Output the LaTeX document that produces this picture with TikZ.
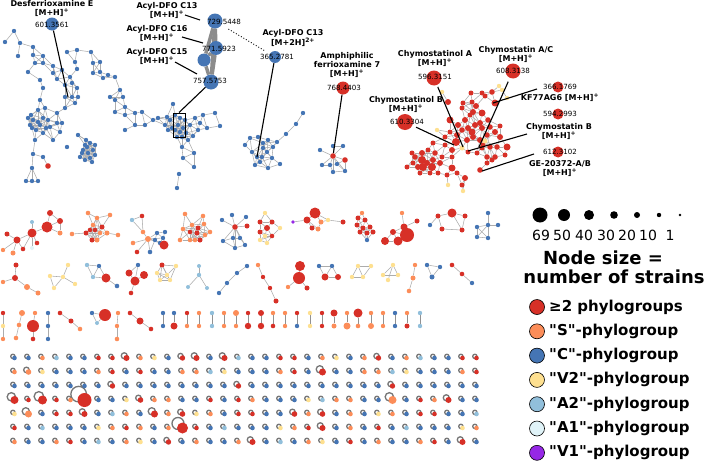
\documentclass[tikz,border=0pt]{standalone}
\usepackage{fontspec}
\setmainfont{DejaVu Sans}[Ligatures=TeXOff]
\pgfdeclarelayer{bg}
\pgfsetlayers{bg,main}
\definecolor{cR}{RGB}{215,48,39}
\definecolor{cO}{RGB}{252,141,89}
\definecolor{cB}{RGB}{69,117,180}
\definecolor{cY}{RGB}{254,224,144}
\definecolor{cL}{RGB}{145,191,219}
\definecolor{cW}{RGB}{224,243,248}
\definecolor{cP}{RGB}{150,40,230}
\definecolor{edgec}{RGB}{172,172,172}
\definecolor{loopc}{RGB}{118,118,118}
\definecolor{thickc}{RGB}{140,140,140}
\tikzset{
  nd/.style={circle,inner sep=0pt,draw=none},
  ed/.style={draw=edgec,line width=0.55pt},
  edd/.style={draw=loopc!80,line width=1pt},
  lp/.style={draw=loopc,line width=1.3pt},
  ptr/.style={draw=black,line width=1.1pt},
  lab/.style={font=\fontsize{8}{9}\selectfont\bfseries,align=center,inner sep=0pt},
  num/.style={font=\fontsize{7.1}{8}\selectfont,inner sep=0pt},
  lgt/.style={font=\fontsize{15}{16}\selectfont\bfseries,anchor=west,inner sep=0pt},
  szt/.style={font=\fontsize{14}{15}\selectfont,inner sep=0pt},
  big/.style={font=\fontsize{18}{19}\selectfont\bfseries,inner sep=0pt}
}
\newcommand\mknodes[2]{%
  \foreach[count=\i] \nx/\ny/\nr/\nc in #2{%
    \node[nd,fill=\nc,minimum size={2*\nr}] (#1-\i) at (\nx,\ny) {};}}
\newcommand\mkedges[2]{%
  \foreach \ea/\eb in {#2}{\draw[ed] (#1-\ea) -- (#1-\eb);}}
\newcommand\mkauto[3]{%
  \foreach[count=\i] \xa/\ya/\ra/\ca in #3{%
    \foreach[count=\j] \xb/\yb/\rb/\cb in #3{%
      \ifnum\j>\i
        \pgfmathtruncatemacro\ok{(((\xa-\xb)/10)*((\xa-\xb)/10)+((\ya-\yb)/10)*((\ya-\yb)/10))<((#2/10)*(#2/10))}%
        \ifnum\ok=1 \draw[ed] (#1-\i) -- (#1-\j);\fi
      \fi}}}
\newcommand\getgr{%
  \pgfmathsetmacro\gx{13+14*\gi+1.5}%
  \pgfmathsetmacro\gy{357+14*\gj+1}%
  \ifcsname gspr\gi-\gj\endcsname
    \edef\gr{\csname gspr\gi-\gj\endcsname}\edef\gc{\csname gspc\gi-\gj\endcsname}%
  \else
    \pgfmathtruncatemacro\gk{mod(\gi*7+\gj*11+\gi*\gj*3,13)}%
    \edef\gr{2.3}%
    \edef\gc{\ifcase\gk cB\or cO\or cB\or cR\or cB\or cY\or cO\or cB\or cL\or cB\or cR\or cO\or cB\fi}%
  \fi}
\foreach \gi/\gj/\sr/\sc in {8/0/3/cR, 12/0/2.7/cR, 13/0/3/cR, 15/0/3/cR, 26/0/2.7/cR, 1/1/2.8/cO, 22/1/3.5/cR, 7/2/2.7/cR, 16/2/2.7/cR, 27/2/2.7/cR, 0/3/4/cR, 2/3/4.5/cR, 5/3/7/cR, 9/3/2.8/cR, 27/3/4/cO, 31/3/3/cR, 1/4/3.5/cO, 5/4/3/cR, 10/4/3.5/cR, 12/4/2.8/cR, 20/4/2.8/cR, 22/4/2.8/cR, 12/5/5.5/cR, 22/5/3/cR, 11/6/2.7/cR, 17/6/3/cR, 32/6/3/cR}{%
  \expandafter\xdef\csname gspr\gi-\gj\endcsname{\sr}%
  \expandafter\xdef\csname gspc\gi-\gj\endcsname{\sc}}

\def\Ltl{14/31/2.2/cB, 5/42/2.2/cB, 20/43/2.2/cB, 18/56/2.2/cB, 33/47/2.2/cB, 33/55/2.2/cB, 43/56/2.2/cB, 35/63/2.2/cB, 28/72/2.2/cB, 43/63/2.2/cB, 53/66/2.2/cB, 53/73/2.2/cB, 62/70/2.2/cB, 67/52/2.2/cB, 77/50/2.2/cB, 75/62/2.2/cB, 70/77/2.2/cB, 77/69/2.2/cB, 91/52/2.2/cB, 93/63/2.2/cB, 100/62/2.2/cB, 100/72/2.2/cB, 103/78/2.2/cB, 93/73/2.2/cB, 77/88/2.2/cB, 65/85/2.2/cB, 72/83/2.2/cB, 57/79/2.2/cB, 40/80/2.2/cB, 43/88/2.2/cB, 65/97/2.2/cB, 72/97/2.2/cB, 78/97/2.2/cB, 75/103/2.2/cB, 65/108/2.2/cB, 62/123/2.2/cB, 40/100/2.2/cB, 31/115/2.2/cB, 43/118/2.2/cB, 50/127/2.2/cB, 36/130/2.2/cB, 43/133/2.2/cB, 33/120/2.2/cB, 32/128/2.2/cB, 35/140/2.2/cB, 57/123/2.2/cB, 57/113/2.2/cB, 60/132/2.2/cB, 67/147/2.2/cB, 78/135/2.2/cB, 53/140/2.2/cB, 83/150/2.2/cB, 87/147/2.2/cB, 93/150/2.2/cB, 90/158/2.2/cB, 80/157/2.2/cB, 43/157/2.2/cB, 48/166/2.8/cR, 33/154/2.2/cB, 32/168/2.2/cB, 32/181/2.2/cB, 26/181/2.2/cB, 38/181/2.2/cB, 110/97/2.2/cB, 115/112/2.2/cB, 125/107/2.2/cB, 125/115/2.2/cB, 115/100/2.2/cB, 123/97/2.2/cB, 135/125/2.2/cB, 108/75/2.2/cB, 115/77/2.2/cB, 120/90/2.2/cB, 135/113/2.2/cB, 142/112/2.2/cB, 145/125/2.2/cB, 153/120/2.2/cB, 158/118/2.2/cB, 38/110/2.2/cB, 45/108/2.2/cB, 28/118/2.2/cB, 48/120/2.2/cB, 40/125/2.2/cB, 46/128/2.2/cB, 30/125/2.2/cB, 38/122/2.2/cB, 85/145/2.2/cB, 90/143/2.2/cB, 95/145/2.2/cB, 82/153/2.2/cB, 88/153/2.2/cB, 95/155/2.2/cB, 85/160/2.2/cB, 92/162/2.2/cB, 86/140/2.2/cB, 125/130/2.2/cB, 173/104/2.2/cB, 167/117/2.2/cB, 165/125/2.2/cB, 170/120/2.2/cB, 175/115/2.2/cB, 180/118/2.2/cB, 185/120/2.2/cB, 178/125/2.2/cB, 183/128/2.2/cB, 175/130/2.2/cB, 180/132/2.2/cB, 186/133/2.2/cB, 190/125/2.2/cB, 172/128/2.2/cB, 168/130/2.2/cB, 200/123/2.2/cB, 198/130/2.2/cB, 203/115/2.2/cB, 215/113/2.2/cB, 220/126/2.2/cB, 193/136/2.2/cB, 188/140/2.2/cB, 182/147/2.2/cB, 182/137/2.2/cB, 177/137/2.2/cB, 194/153/2.2/cB, 183/158/2.2/cB, 194/167/2.2/cB, 179/174/2.2/cB, 177/188/2.2/cB, 207/128/2.2/cB, 195/118/2.2/cB}
\def\Laa{250/138/2.2/cB, 258/137/2.2/cB, 268/140/2.2/cB, 273/147/2.2/cB, 267/152/2.2/cB, 257/157/2.2/cB, 252/152/2.2/cB, 262/157/2.2/cB, 260/162/2.2/cB, 272/158/2.2/cB, 280/164/2.2/cB, 268/168/2.2/cB, 255/165/2.2/cB, 263/148/2.2/cB, 263/143/2.2/cB, 277/142/2.2/cB, 286/134/2.2/cB, 296/124/2.2/cB, 303/113/2.2/cB, 245/145/2.2/cB}
\def\Lam{333/146/2.2/cB, 343/146/2.2/cB, 320/150/2.2/cB, 333/156/2.8/cR, 345/160/2.8/cR, 330/165/2.2/cB, 337/164/2.2/cB, 345/171/2.2/cB, 333/172/2.2/cB, 322/165/2.2/cB}
\def\Lch{492/92/2.8/cR, 499/86/2.2/cY, 485/96/2.5/cR, 472/102/2.5/cR, 463/103/2.5/cR, 495/103/3.5/cR, 462/108/2.5/cR, 473/112/3/cR, 450/120/3.5/cR, 465/120/3/cR, 470/115/2.5/cR, 482/113/3.5/cR, 480/123/3/cR, 475/125/3/cR, 468/128/3/cR, 482/128/3/cR, 488/120/2.8/cR, 490/127/2.8/cR, 462/130/2.8/cR, 457/135/3/cR, 450/132/2.5/cR, 445/137/2.5/cR, 456/142/4/cR, 467/140/3/cR, 473/137/3/cR, 480/140/3/cR, 487/135/2.8/cR, 495/132/3/cR, 500/137/3/cR, 507/147/3.5/cR, 497/147/2.8/cR, 490/147/2.8/cR, 482/148/2.5/cR, 477/153/2.5/cR, 468/152/2.5/cR, 462/148/2.5/cY, 487/157/2.8/cR, 495/157/2.8/cR, 487/163/2.5/cR, 480/170/2.8/cR, 492/160/2.5/cR, 483/145/2.5/cR, 437/130/2.2/cY, 433/143/2.5/cR, 445/145/2.5/cR, 452/150/3/cR, 452/157/2.5/cR, 435/153/2.8/cR, 428/150/2.5/cR, 422/153/3/cR, 415/157/2.8/cR, 422/160/4/cR, 427/163/3/cR, 433/160/3/cR, 423/167/4/cR, 432/167/4/cR, 413/163/2.5/cR, 407/167/2.5/cR, 412/153/2.5/cR, 438/173/2.5/cR, 452/168/3.5/cR, 447/175/2.5/cR, 457/173/2.5/cR, 465/178/3/cR, 462/185/2.5/cR, 448/185/2.2/cY, 463/191/2.2/cY, 442/157/2.5/cR, 430/173/2.5/cR, 420/173/2.5/cR, 442/92/2.2/cY, 502/90/2.2/cY, 507/98/2.2/cY, 482/93/2.5/cR, 448/102/3/cR, 471/93/2.5/cR, 476/106/3/cR, 458/125/3/cR, 472/132/3.5/cR, 485/141/2.5/cY, 500/126/2.5/cR, 440/163/3/cR, 418/167/3/cR, 505/155/2.5/cR}
\def\Lrb{88/213/2.3/cO, 110/215/2.3/cO, 72/234/2.3/cO, 86/233/2.5/cR, 92/240/2.5/cR, 97/240/2.5/cO, 102/227/2.5/cR, 107/233/2.5/cO, 118/235/2.3/cO, 93/225/2.3/cO, 97/218/2.3/cO, 90/230/2.3/cR, 100/233/2.3/cO, 95/230/2.3/cR}
\def\Lrd{185/214/2.3/cO, 183/229/2.3/cO, 180/240/2.3/cO, 192/225/2.3/cO, 198/228/2.5/cR, 204/224/2.3/cO, 210/232/2.3/cO, 200/240/2.5/cR, 195/240/2.3/cO, 190/240/2.3/cO, 205/235/2.3/cO, 197/233/2.5/cR, 190/232/2.3/cR, 203/216/2.3/cO}
\def\Lrf{265/213/2.2/cY, 260/222/2.5/cR, 272/222/2.5/cR, 267/228/3/cR, 260/232/2.5/cR, 280/228/2.2/cY, 260/240/2.2/cY, 267/243/2.2/cY, 272/236/2.3/cR, 265/236/2.2/cY}
\def\Lrh{362/213/2.2/cO, 357/225/2.5/cR, 365/220/2.5/cR, 370/227/2.5/cR, 373/232/2.5/cR, 367/233/2.5/cR, 360/232/2.5/cR, 358/218/2.5/cR, 363/228/2.5/cR, 367/240/2.2/cB}
\def\Lsv{162/265/2.5/cR, 176/266/2.2/cY, 157/273/2.2/cY, 167/275/2.2/cY, 170/280/2.2/cY, 160/280/2.2/cY}

\begin{document}
\begin{tikzpicture}[x=1pt,y=-1pt]
\useasboundingbox (0,0) rectangle (708,463);

% ================= NODES =================
\mknodes{tl}{\Ltl}
\node[draw=black,line width=1pt,minimum width=12pt,minimum height=24pt,inner sep=0pt] (bx) at (179,125) {};
\mknodes{aa}{\Laa}
\mknodes{am}{\Lam}
\mknodes{ch}{\Lch}

\node[nd,fill=cB,minimum size=13pt] (dfe) at (52,24) {};
\node[nd,fill=cB,minimum size=15pt] (ac13) at (215,21) {};
\node[nd,fill=cB,minimum size=14pt] (ac16) at (216,48) {};
\node[nd,fill=cB,minimum size=13pt] (acx) at (204,60) {};
\node[nd,fill=cB,minimum size=15pt] (ac15) at (211,82) {};
\node[nd,fill=cB,minimum size=12pt] (ac2) at (275,57) {};
\node[nd,fill=cR,minimum size=13pt] (amp) at (343,88) {};
\node[nd,fill=cR,minimum size=15pt] (cya) at (434,78) {};
\node[nd,fill=cR,minimum size=15pt] (cyac) at (513,71) {};
\node[nd,fill=cR,minimum size=11pt] (kf) at (558,87) {};
\node[nd,fill=cR,minimum size=11pt] (cyb) at (558,114) {};
\node[nd,fill=cR,minimum size=16pt] (cyo) at (405,122) {};
\node[nd,fill=cR,minimum size=11pt] (ge) at (558,152) {};

\mknodes{ra}{{7/234/2.5/cR, 17/240/3.5/cR, 13/253/2.5/cO, 3/250/2.2/cO, 32/233/4.5/cR, 32/222/2/cL, 32/248/2/cW, 23/249/2.3/cR, 37/243/2.3/cR, 47/227/5.5/cR, 50/213/3/cR, 60/221/3/cR, 60/233/2.5/cO}}
\mknodes{rb}{\Lrb}
\mknodes{rc}{{132/220/2.2/cL, 142/216/2.3/cR, 143/232/2.3/cO, 148/239/3/cO, 133/243/2.3/cO, 137/252/2.3/cR, 150/252/2.3/cB, 157/233/2.2/cB, 163/238/2.2/cB, 160/243/2.2/cB, 164/245/4.5/cR, 155/240/2.2/cB, 165/232/2.2/cB}}
\mknodes{rd}{\Lrd}
\mknodes{re}{{235/227/2.8/cR, 222/220/2.2/cB, 232/215/2.2/cB, 246/217/2.2/cB, 247/226/2.5/cR, 223/241/2.2/cB, 235/248/2.2/cB, 245/245/2.2/cB, 233/238/2.2/cB, 240/238/2.2/cB}}
\mknodes{rf}{\Lrf}
\mknodes{rg}{{293/222/1.8/cP, 307/220/3.5/cR, 315/213/5.5/cR, 321/222/2.5/cO, 312/228/2.5/cR, 318/229/2.5/cO, 328/220/2.2/cY, 343/222/2.5/cR}}
\mknodes{rh}{\Lrh}
\mknodes{ri}{{402/213/2.2/cO, 404/227/3.5/cR, 393/232/3/cR, 417/221/2.5/cR, 385/241/4/cR, 398/241/4.5/cR, 407/235/7/cR}}
\mknodes{rj}{{430/225/2.2/cB, 438/216/2.5/cR, 452/213/4.5/cR, 465/216/2.5/cR, 462/230/2.5/cR, 442/229/2.5/cR}}
\mknodes{rk}{{488/213/2.2/cB, 488/225/2.2/cB, 477/227/2.2/cB, 477/237/2.2/cB, 488/238/2.2/cB, 498/225/2.2/cB}}

\mknodes{sa}{{16/265/2.5/cR, 15/278/3/cR, 3/282/2.2/cO, 27/287/3/cO, 38/293/2.5/cO}}
\mknodes{sb}{{68/265/2.2/cY, 63/277/2.2/cY, 50/276/2.2/cY, 54/288/2.2/cY, 75/284/2.2/cY}}
\mknodes{sc}{{87/265/2.2/cL, 99/266/2.2/cB, 93/277/2.2/cL, 106/278/4.5/cR, 117/286/2.3/cB}}
\mknodes{sd}{{129/273/3.5/cR, 138/265/2.2/cB, 144/275/4/cR, 135/281/4.5/cR, 131/293/2.3/cR}}
\mknodes{se}{\Lsv}
\mknodes{sf}{{199/266/2/cL, 199/275/2.2/cL, 188/287/2/cL, 207/288/2/cL}}
\mknodes{sg}{{247/266/2.2/cB, 237/273/2.2/cB, 227/283/2.2/cB, 219/293/2.2/cB}}
\mknodes{sh}{{258/265/2.2/cO, 263/277/2.2/cR, 270/288/2.2/cR, 276/301/2.5/cR}}
\mknodes{si}{{300/266/5/cR, 299/278/6/cR, 288/287/2.2/cO, 307/288/2.5/cR}}
\mknodes{sj}{{319/266/2.2/cB, 332/266/2.2/cB, 325/277/3.5/cR, 338/277/3/cR}}
\mknodes{sk}{{358/266/2.2/cY, 371/266/2.2/cY, 352/277/2.2/cY, 363/277/2.2/cY}}
\mknodes{sl}{{393/265/2.2/cY, 383/275/2.2/cY, 398/275/2.2/cY, 388/280/2.2/cY}}
\mknodes{sm}{{415/265/2.2/cO, 413/278/2.5/cO, 409/291/2.3/cO}}
\mknodes{sn}{{427/265/2.2/cB, 440/267/2.2/cB, 432/277/2.5/cB}}
\mknodes{so}{{452/265/2.3/cR, 462/274/2.3/cR, 472/283/2.2/cB}}

\mknodes{ta}{{3/313/2.2/cR, 3/326/2.2/cY, 3/339/2.2/cO}}
\mknodes{tb}{{22/313/3/cO, 19/325/2.3/cO, 16/338/2.3/cO}}
\mknodes{tc}{{35/313/2.2/cO, 33/326/6/cR, 33/339/2.3/cR}}
\mknodes{td}{{48/313/2.2/cB, 48/326/2.2/cB, 48/339/2.2/cB}}
\mknodes{te}{{60/313/2.3/cR, 71/321/2.5/cR, 80/329/2.3/cO}}
\mknodes{tf}{{92/313/2.2/cB, 97/323/2/cL, 105/315/6/cR}}
\mknodes{tg}{{118/313/2.2/cO, 117/326/2.2/cO, 117/339/2.3/cO}}
\mknodes{th}{{130/313/2.3/cR, 140/321/3.5/cR, 151/329/2.3/cR}}
\foreach[count=\n] \px/\ca/\ra/\cb/\rb in {163/cB/2.2/cB/2.2, 174/cB/2.2/cR/3.5, 187/cR/2.2/cO/2.2, 199/cO/2.2/cO/2.2, 212/cL/2.2/cL/2.2, 224/cO/2.2/cO/2.2, 236/cO/3/cO/2.2, 248/cR/2.2/cR/3.2, 261/cR/3/cR/3.2, 273/cO/2.2/cR/2.3, 285/cO/2.2/cO/2.2, 297/cR/2.2/cB/2.2, 310/cY/2.2/cY/2.2, 322/cR/2.2/cR/2.2, 334/cR/3.5/cO/2.5, 347/cO/2.2/cO/3.5, 358/cR/4.5/cO/2.3, 371/cO/2.2/cO/3, 383/cO/2.2/cO/2.2, 395/cB/2.2/cB/2.2, 407/cO/2.2/cR/2.5, 420/cL/2.2/cL/2.2}{%
  \node[nd,fill=\ca,minimum size={2*\ra}] (pa\n) at (\px,313) {};
  \node[nd,fill=\cb,minimum size={2*\rb}] (pb\n) at (\px,326) {};}

\foreach \gi in {0,...,33}{\foreach \gj in {0,...,6}{%
  \getgr
  \node[nd,fill=\gc,minimum size={2*\gr}] (g\gi-\gj) at (\gx,\gy) {};}}

% ================= EDGES =================
\begin{pgfonlayer}{bg}
\fill[white] (0,0) rectangle (708,463);
\mkauto{tl}{14.5}{\Ltl}
\mkauto{aa}{14.5}{\Laa}
\mkedges{am}{4/1,4/2,4/3,4/5,4/6,4/7,4/8,4/9,4/10,6/7,7/8,8/9,9/6,5/7,5/8,6/10,1/2}
\mkauto{ch}{13.5}{\Lch}
\foreach \ea/\eb in {ac13/ac16,ac13/acx,ac16/acx,ac16/ac15,acx/ac15,ac13/ac15}{\draw[draw=thickc,line width=3.5pt] (\ea) -- (\eb);}
\mkedges{ra}{1/2,2/3,2/4,2/5,5/6,5/7,5/8,5/9,5/10,10/11,10/12,12/13,10/13,2/8,11/12}
\mkauto{rb}{16}{\Lrb}
\mkedges{rc}{1/2,2/3,1/3,3/4,4/5,4/6,4/7,4/8,4/9,4/10,4/12,8/9,9/10,10/11,8/13,9/13,12/10,8/12,12/7}
\mkauto{rd}{16}{\Lrd}
\mkedges{re}{1/2,1/3,1/4,1/5,1/6,1/7,1/8,1/9,1/10,6/9,9/10,10/8,9/7,7/8,6/7}
\mkauto{rf}{13}{\Lrf}
\mkedges{rg}{1/2,2/3,3/4,2/5,5/6,4/6,4/7,7/8,3/7,2/6}
\mkauto{rh}{13}{\Lrh}
\mkedges{ri}{1/2,2/4,2/3,3/5,3/6,5/6,6/7,2/7,3/7}
\mkedges{rj}{1/2,2/3,3/4,4/5,5/6,6/2,3/5}
\mkedges{rk}{1/2,2/6,2/3,3/4,4/5,5/2,3/5,2/4}
\mkedges{sa}{1/2,2/3,2/4,4/5}
\mkedges{sb}{1/2,2/3,2/4,2/5,3/4}
\mkedges{sc}{1/2,1/3,2/3,2/4,3/4,4/5}
\mkedges{sd}{1/4,2/4,3/4,4/5,1/2}
\mkauto{se}{20}{\Lsv}
\mkedges{sf}{1/2,2/3,2/4}
\mkedges{sg}{1/2,2/3,3/4}
\mkedges{sh}{1/2,2/3,3/4}
\mkedges{si}{1/2,2/3,2/4}
\mkedges{sj}{1/2,1/3,2/3,2/4,3/4}
\mkedges{sk}{1/2,1/3,3/4,2/4,1/4}
\mkedges{sl}{1/2,1/3,2/3,1/4}
\mkedges{sm}{1/2,2/3}
\mkedges{sn}{1/2,2/3,1/3}
\mkedges{so}{1/2,2/3}
\mkedges{ta}{1/2,2/3}
\mkedges{tb}{1/2,2/3}
\mkedges{tc}{1/2,2/3}
\mkedges{td}{1/2,2/3}
\mkedges{te}{1/2,2/3}
\mkedges{tf}{1/2,2/3,1/3}
\mkedges{tg}{1/2,2/3}
\mkedges{th}{1/2,2/3}
\foreach \n in {1,...,22}{\draw[edd] (pa\n) -- (pb\n);}
\foreach \gi in {0,...,33}{\foreach \gj in {0,...,6}{%
  \getgr
  \pgfmathsetmacro\lr{1.2*\gr-0.6}%
  \pgfmathsetmacro\lx{\gx-0.75*\lr}%
  \pgfmathsetmacro\ly{\gy-0.75*\lr}%
  \draw[lp] (\lx,\ly) circle[radius=\lr pt];}}
\end{pgfonlayer}

% ================= TEXT & POINTERS =================
\draw[black,dotted,line width=0.9pt,shorten <=8pt,shorten >=6pt] (ac13) -- (ac2);

\node[num] (t1) at (52,25) {601.3561};
\node[num] (t2) at (224,22) {729.5448};
\node[num] (t3) at (219,49) {771.5923};
\node[num] (t4) at (210,81) {757.5753};
\node[num] (t5) at (277,57) {365.2781};
\node[num] (t6) at (344,88) {768.4403};
\node[num] (t7) at (435,77) {596.3151};
\node[num] (t8) at (513,71) {608.3138};
\node[num] (t9) at (560,87) {366.1769};
\node[num] (t10) at (560,114) {594.2993};
\node[num] (t11) at (407,122) {610.3304};
\node[num] (t12) at (560,152) {612.3102};

\node[lab] (l1) at (52,8.5) {Desferrioxamine E\\ {[M+H]\textsuperscript{+}}};
\node[lab] (l2) at (167,10.5) {Acyl-DFO C13\\ {[M+H]\textsuperscript{+}}};
\node[lab] (l3) at (157,33) {Acyl-DFO C16\\ {[M+H]\textsuperscript{+}}};
\node[lab] (l4) at (157,56) {Acyl-DFO C15\\ {[M+H]\textsuperscript{+}}};
\node[lab] (l5) at (293,37.5) {Acyl-DFO C13\\ {[M+2H]\textsuperscript{2+}}};
\node[lab] (l6) at (347,65) {Amphiphilic\\ ferrioxamine 7\\ {[M+H]\textsuperscript{+}}};
\node[lab] (l7) at (435,58) {Chymostatinol A\\ {[M+H]\textsuperscript{+}}};
\node[lab] (l8) at (516,54.5) {Chymostatin A/C\\ {[M+H]\textsuperscript{+}}};
\node[lab] (l9) at (406,104.5) {Chymostatinol B\\ {[M+H]\textsuperscript{+}}};
\node[lab] (l10) at (560,98) {KF77AG6 [M+H]\textsuperscript{+}};
\node[lab] (l11) at (559,131.5) {Chymostatin B\\ {[M+H]\textsuperscript{+}}};
\node[lab] (l12) at (560,168.5) {GE-20372-A/B\\ {[M+H]\textsuperscript{+}}};

\coordinate (p1) at (185,15); \coordinate (q1) at (200,20);
\coordinate (p2) at (182,37); \coordinate (q2) at (203,43);
\coordinate (p3) at (175,62); \coordinate (q3) at (197,74);
\coordinate (q4) at (68,97);
\coordinate (q5) at (257,157);
\coordinate (q6) at (463,147);
\coordinate (q7) at (479,147);
\coordinate (p8) at (537,89); \coordinate (q8) at (493,103);
\coordinate (q9) at (454,145);
\coordinate (p10) at (527,134); \coordinate (q10) at (468,151);
\coordinate (p11) at (534,154); \coordinate (q11) at (482,171);
\draw[ptr] (p1) -- (q1);
\draw[ptr] (p2) -- (q2);
\draw[ptr] (p3) -- (q3);
\draw[ptr] (ac15) -- (bx.north);
\draw[ptr] (dfe) -- (q4);
\draw[ptr] (ac2) -- (q5);
\draw[ptr] (amp) -- (am-4);
\draw[ptr,shorten <=2pt] (cya) -- (q6);
\draw[ptr,shorten <=4pt] (cyac) -- (q7);
\draw[ptr] (p8) -- (q8);
\draw[ptr,shorten <=4pt] (cyo) -- (q9);
\draw[ptr] (p10) -- (q10);
\draw[ptr] (p11) -- (q11);

% ================= LEGEND =================
\foreach[count=\n] \lx/\lr in {540/7.5, 564/6, 589/5, 614/3.8, 637/3, 659/2.2, 680/1.4}{%
  \node[nd,fill=black,minimum size={2*\lr}] (sz\n) at (\lx,215) {};}
\foreach[count=\n] \lx/\lt in {541/69, 562/50, 584/40, 606/30, 627/20, 648/10, 670/1}{%
  \node[szt] (szt\n) at (\lx,235) {\lt};}
\node[big] (ns1) at (603,258) {Node size =};
\node[big] (ns2) at (614,277) {number of strains};
\foreach[count=\n] \lc/\lt in {cR/{≥2 phylogroups}, cO/{"S"-phylogroup}, cB/{"C"-phylogroup}, cY/{"V2"-phylogroup}, cL/{"A2"-phylogroup}, cW/{"A1"-phylogroup}, cP/{"V1"-phylogroup}}{%
  \pgfmathsetmacro\ly{307+24.3*(\n-1)}%
  \node[nd,draw=black,line width=0.6pt,fill=\lc,minimum size=15pt] (lg\n) at (537,\ly) {};
  \node[lgt] (lgt\n) at (549,\ly) {\lt};}
\end{tikzpicture}
\end{document}
